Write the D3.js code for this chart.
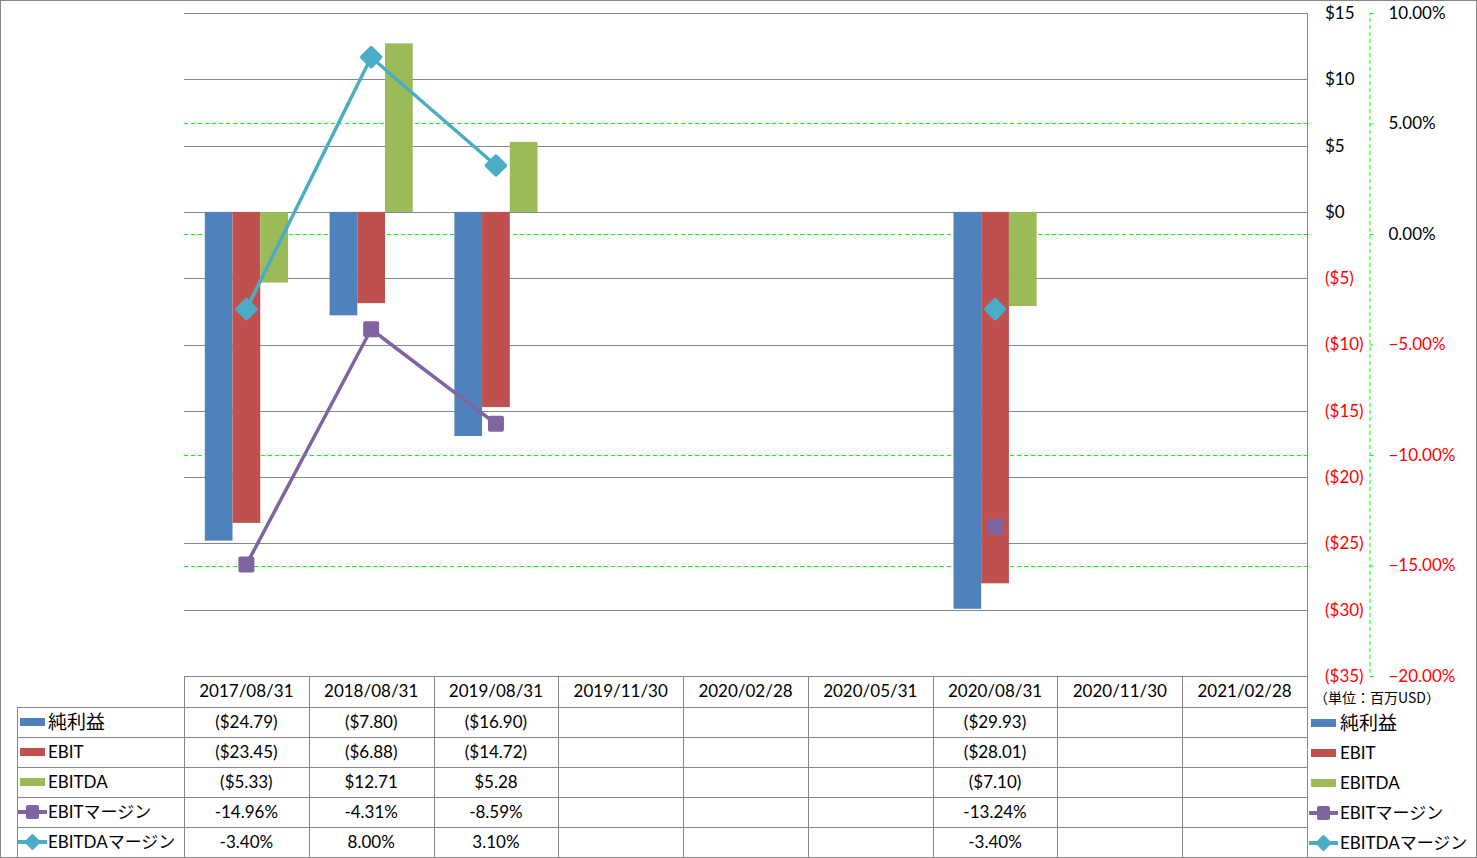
<!DOCTYPE html>
<html><head><meta charset="utf-8">
<script src="https://cdn.jsdelivr.net/npm/d3@7"></script>
<style>
body{margin:0;background:#fff;}
svg{display:block;font-family:"Lato","Noto Sans CJK JP",sans-serif;}
</style></head>
<body><svg id="c" width="1477" height="858"></svg>
<script>
const categories = ["2017/08/31","2018/08/31","2019/08/31","2019/11/30","2020/02/28","2020/05/31","2020/08/31","2020/11/30","2021/02/28"];
const netIncome = [-24.79,-7.80,-16.90,null,null,null,-29.93,null,null];
const ebit = [-23.45,-6.88,-14.72,null,null,null,-28.01,null,null];
const ebitda = [-5.33,12.71,5.28,null,null,null,-7.10,null,null];
const ebitMargin = [-14.96,-4.31,-8.59,null,null,null,-13.24,null,null];
const ebitdaMargin = [-3.40,8.00,3.10,null,null,null,-3.40,null,null];
const leftTicks = [15,10,5,0,-5,-10,-15,-20,-25,-30,-35];
const rightTicks = [10,5,0,-5,-10,-15,-20];
const seriesNames = ["純利益","EBIT","EBITDA","EBITマージン","EBITDAマージン"];
const unitLabel = "（単位：百万USD）";

const colors = {blue:"#4F81BD",red:"#C0504D",green:"#9BBB59",purple:"#8064A2",cyan:"#4BACC6"};
const svg = d3.select("#c");
const L=184,R=1307,T=13,B=676;
const x = d3.scaleBand().domain(categories).range([L,R]);
const y = d3.scaleLinear().domain([-35,15]).range([B,T]);
const yp = d3.scaleLinear().domain([-20,10]).range([B,T]);
const grid="#868686";

// chart border
svg.append("rect").attr("x",0.5).attr("y",0.5).attr("width",1476).attr("height",857).attr("fill","none").attr("stroke",grid);

// dashed green gridlines (secondary)
svg.append("g").selectAll("line").data(rightTicks.filter(v=>v<10&&v>-20)).join("line")
  .attr("x1",L).attr("x2",R).attr("y1",d=>Math.round(yp(d))+0.5).attr("y2",d=>Math.round(yp(d))+0.5)
  .attr("stroke","#00FF00").attr("stroke-dasharray","4,3").attr("stroke-width",1);
// solid gridlines
svg.append("g").selectAll("line").data(leftTicks.filter(v=>v>-35)).join("line")
  .attr("x1",L).attr("x2",R).attr("y1",d=>Math.round(y(d))+0.5).attr("y2",d=>Math.round(y(d))+0.5)
  .attr("stroke",grid).attr("stroke-width",1);

// bars
const bw = x.bandwidth(), barW = bw/4.5;
const barSeries = [[netIncome,colors.blue],[ebit,colors.red],[ebitda,colors.green]];
barSeries.forEach(([vals,col],i)=>{
  svg.append("g").selectAll("rect").data(categories.map((c,j)=>({c,v:vals[j]})).filter(d=>d.v!=null)).join("rect")
    .attr("x",d=>x(d.c)+bw/2-1.5*barW+i*barW).attr("width",barW)
    .attr("y",d=>y(Math.max(0,d.v))).attr("height",d=>Math.abs(y(d.v)-y(0)))
    .attr("fill",col);
});

// lines
function drawLine(vals,col,w,shape){
  const pts = categories.map((c,j)=>({c,v:vals[j]}));
  const line = d3.line().defined(d=>d.v!=null).x(d=>x(d.c)+bw/2).y(d=>yp(d.v));
  svg.append("path").datum(pts).attr("d",line).attr("fill","none").attr("stroke",col).attr("stroke-width",w).attr("stroke-linejoin","round");
  const g = svg.append("g").selectAll("g").data(pts.filter(d=>d.v!=null)).join("g")
    .attr("transform",d=>`translate(${x(d.c)+bw/2},${yp(d.v)})`);
  if(shape==="square") g.append("rect").attr("x",-8).attr("y",-8).attr("width",16).attr("height",16).attr("rx",2).attr("fill",col);
  else g.append("rect").attr("x",-8.5).attr("y",-8.5).attr("width",17).attr("height",17).attr("rx",2).attr("transform","rotate(45)").attr("fill",col);
}
drawLine(ebitMargin,colors.purple,3.5,"square");
drawLine(ebitdaMargin,colors.cyan,3.5,"diamond");

// primary axis (right of plot)
const fmtMoney = v => v<0 ? `($${-v})` : `$${v}`;
const ax = svg.append("g").attr("transform",`translate(${R},0)`)
  .call(d3.axisRight(y).tickValues(leftTicks).tickFormat(fmtMoney).tickSize(0).tickPadding(18));
ax.select(".domain").remove();
ax.selectAll("text").attr("font-size",17).attr("font-family","Lato").attr("fill",d=>d<0?"#FF0000":"#000");

// secondary axis
const ax2 = svg.append("g").attr("transform",`translate(1369.5,0)`)
  .call(d3.axisRight(yp).tickValues(rightTicks).tickFormat(d=>d3.format(".2f")(d)+"%").tickSize(4).tickPadding(15));
ax2.select(".domain").attr("stroke","#00FF00").attr("stroke-dasharray","4,3");
ax2.selectAll(".tick line").attr("stroke","#00FF00");
ax2.selectAll("text").attr("font-size",17).attr("font-family","Lato").attr("fill",d=>d<0?"#FF0000":"#000");

// vertical right plot edge
svg.append("line").attr("x1",R+0.5).attr("x2",R+0.5).attr("y1",T).attr("y2",857).attr("stroke",grid);

// data table
const rowTop = [B,707,737,767,797,827,857];
const tg = svg.append("g");
tg.append("line").attr("x1",L).attr("x2",R).attr("y1",B+0.5).attr("y2",B+0.5).attr("stroke",grid);
rowTop.slice(1,6).forEach(yy=>tg.append("line").attr("x1",17).attr("x2",R).attr("y1",yy+0.5).attr("y2",yy+0.5).attr("stroke",grid));
tg.append("line").attr("x1",17.5).attr("x2",17.5).attr("y1",707).attr("y2",857).attr("stroke",grid);
categories.forEach(c=>tg.append("line").attr("x1",Math.round(x(c))+0.5).attr("x2",Math.round(x(c))+0.5).attr("y1",B).attr("y2",857).attr("stroke",grid));
// header
tg.selectAll("text.h").data(categories).join("text").attr("class","h")
  .attr("x",d=>x(d)+bw/2).attr("y",(rowTop[0]+rowTop[1])/2).attr("dy","0.35em")
  .attr("text-anchor","middle").attr("font-size",17).text(d=>d);
const fmtM = v => v==null?"":(v<0?`($${(-v).toFixed(2)})`:`$${v.toFixed(2)}`);
const fmtP = v => v==null?"":v.toFixed(2)+"%";
const rows = [[netIncome,fmtM],[ebit,fmtM],[ebitda,fmtM],[ebitMargin,fmtP],[ebitdaMargin,fmtP]];
rows.forEach(([vals,f],r)=>{
  const cy=(rowTop[r+1]+rowTop[r+2])/2;
  tg.append("g").selectAll("text").data(categories.map((c,j)=>({c,v:vals[j]}))).join("text")
    .attr("x",d=>x(d.c)+bw/2).attr("y",cy).attr("dy","0.35em").attr("text-anchor","middle").attr("font-size",17)
    .text(d=>f(d.v));
});

// legend keys
const keyCols=[colors.blue,colors.red,colors.green,colors.purple,colors.cyan];
function key(g,x0,cy,i){
  if(i<3){ g.append("rect").attr("x",x0).attr("y",cy-4).attr("width",25).attr("height",8).attr("fill",keyCols[i]); }
  else {
    g.append("line").attr("x1",x0-2).attr("x2",x0+27).attr("y1",cy).attr("y2",cy).attr("stroke",keyCols[i]).attr("stroke-width",4);
    if(i===3) g.append("rect").attr("x",x0+6).attr("y",cy-7).attr("width",13).attr("height",14).attr("rx",2).attr("fill",keyCols[i]);
    else g.append("rect").attr("x",x0+12.5-6).attr("y",cy-6).attr("width",12).attr("height",12).attr("rx",1.5).attr("transform",`rotate(45,${x0+12.5},${cy})`).attr("fill",keyCols[i]);
  }
}
seriesNames.forEach((n,i)=>{
  const cy=(rowTop[i+1]+rowTop[i+2])/2;
  key(svg,20,cy,i);
  svg.append("text").attr("x",48).attr("y",cy).attr("dy","0.35em").attr("font-size",i===0?19:17).text(n);
  key(svg,1311,cy+1,i);
  svg.append("text").attr("x",1340).attr("y",cy+1).attr("dy","0.35em").attr("font-size",i===0?19:17).text(n);
});
svg.append("text").attr("x",1314).attr("y",698).attr("dy","0.35em").attr("font-size",14).attr("font-family","Noto Sans CJK JP").text(unitLabel);
</script></body></html>
